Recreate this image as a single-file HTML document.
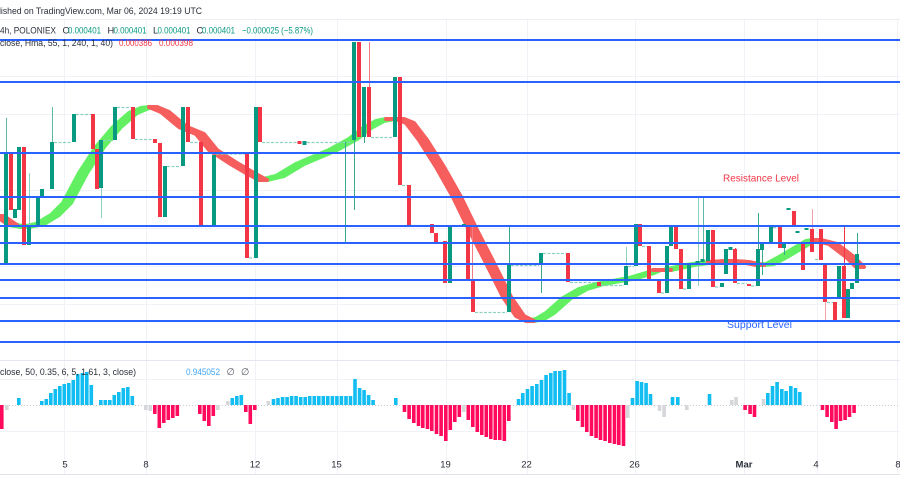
<!DOCTYPE html>
<html>
<head>
<meta charset="utf-8">
<style>
html,body{margin:0;padding:0;background:#fff;}
svg{display:block;}
text{font-family:"Liberation Sans",Arial,sans-serif;}
</style>
</head>
<body>
<svg width="900" height="500" viewBox="0 0 900 500" xmlns="http://www.w3.org/2000/svg">
<rect width="900" height="500" fill="#ffffff"/>
<path d="M0 19.5H900" stroke="#ebedf2"/>
<path stroke="#f0f2f7" fill="none" d="M64.5 20V474M146.5 20V474M255.5 20V474M337.5 20V474M446.5 20V474M527.5 20V474M635.5 20V474M744.5 20V474M817.5 20V474M897.5 20V474M0 76.5H900M0 114.5H900M0 152.5H900M0 190.5H900M0 228.5H900M0 266.5H900M0 304.5H900M0 379.5H900M0 431.5H900"/>
<path d="M0 360.5H900" stroke="#e3e6ee"/>
<path d="M0 474.5H900" stroke="#e0e3eb"/>
<path d="M0 405.5H900" stroke="#c9ccd4" stroke-dasharray="1,2"/>

<defs>
<polyline id="r0" points="0,216 7,221 13,225"/>
<polyline id="g1" points="13,225 25,227 40,224 55,215 67,203 83,173 100,147 117,127 133,113 145,108 153,107"/>
<polyline id="r1" points="153,107 165,112 183,127 200,134 213,150 233,163 250,173 263,180"/>
<polyline id="g2" points="263,180 280,176 300,164 333,150 353,139 367,128 380,121 390,119"/>
<polyline id="r2" points="390,119 400,119 410,123 423,140 440,167 457,197 473,230 490,263 507,297 520,316 530,321"/>
<polyline id="g3" points="530,321 540,319 550,313 567,298 583,289 600,284 633,278 650,273 657,270"/>
<polyline id="r3" points="657,270 667,270"/>
<polyline id="g4" points="667,270 690,265 712,262"/>
<polyline id="r4" points="712,262 730,261 745,262 760,265"/>
<polyline id="g5" points="760,265 770,264 783,257 800,247 810,241 817,240"/>
<polyline id="r5" points="817,240 833,244 850,257 860,267"/>
<g id="gband">
<use href="#g1"/><use href="#g2"/><use href="#g3"/><use href="#g4"/><use href="#g5"/>
</g>
<g id="rband">
<use href="#r0"/><use href="#r1"/><use href="#r2"/><use href="#r3"/><use href="#r4"/><use href="#r5"/>
</g>
</defs>
<g fill="none" stroke="#62f062" stroke-width="4" stroke-linejoin="round" stroke-linecap="round">
<use href="#gband" x="-4"/><use href="#gband" x="-2"/><use href="#gband"/><use href="#gband" x="2"/><use href="#gband" x="4"/>
</g>
<g fill="none" stroke="#f65e5e" stroke-width="4" stroke-linejoin="round" stroke-linecap="round">
<use href="#rband" x="-4"/><use href="#rband" x="-2"/><use href="#rband"/><use href="#rband" x="2"/><use href="#rband" x="4"/>
</g>

<path fill="none" stroke="#8fd1c1" stroke-width="1.2" stroke-dasharray="3,1.5" d="M54 142.5H72M76 114.5H91M103 140.5H113M117 107.5H131M135 139.5H153M167 166.5H181M190 142.5H199M204 226H212M216 154H245M249 258H254M262 142.5H352M371 137.5H393M402 185.5H407M411 225.5H430M452 225.5H462M475 312.5H507M511 265.5H539M543 253.5H566M570 282.5H597M601 285.5H624M628 266.5H634M642 246.5H647M661 293H665M683 289H687M715 287H720M737 283.5H747M751 286H756M764 242.5H769M773 227.5H778M815 259.5H819M827 302.5H833"/>

<path fill="none" stroke="#5fb8a3" d="M6.5 118V153M52.5 107V142M703.5 197V260"/>
<path fill="none" stroke="#8fd1c1" d="M29.5 173V227M101.5 188V218M626.5 247V266M698.5 197V286"/>
<path fill="none" stroke="#3aa98f" d="M345.5 142V243M354.5 140V210M364.5 137V143M509.5 227V265M541.5 265V293M758.5 213V249M762.5 250V275M784.5 248V255M857.5 233V254"/>
<path fill="none" stroke="#f57a84" d="M369.5 42V87M472.5 227V281"/>
<path fill="none" stroke="#f23645" d="M735.5 248V283M844.5 227V266"/>
<path fill="none" stroke="#f7a0a7" d="M812.5 209V229M825.5 302V321"/>

<path fill="none" stroke="#089981" stroke-width="4" d="M6 153V263M15 209V218M19 147V210M29 227V245M38 196V226M42 189V196M52 142V189M74 114V142M101 140V188M115 107V140M165 166V217M183 107V166M214 155V226M256 107V258M304.5 141V145M354 42V140M364 87V137M395 77V137M450 225V283M464 224V227M509 265V312M541 253V265M626 266V285M636 224V266M667 246V293M671 227V246M689 263V289M697.5 261V264M702.5 259V262M708 230V261M722 283V287M726 249V274M730.5 247V250M758 249V286M762 242V250M771 227V242M784 244V248M788.5 208V210M797.5 231V233M806.5 228V230M839 266V298M848 289V318M852 283V289M857 254V283"/>
<path fill="none" stroke="#f23645" stroke-width="4" d="M11 153V210M24 147V245M93 114V149M97 149V189M133 107V139M155 139V143M160 143V217M188 107V142M201 142V226M247 153V258M260 107V142M299.5 141V144M359 42V137M369 87V137M400 77V185M409 185V226M432 224V233M436 233V242M445 241V283M468 225V281M473 281V312M568 253V282M599 282V286M640 224V246M649 246V279M659 279V293M676 227V249M681 249V289M713 230V287M735 249V283M749 284V286M780 227V248M794 211V227M803 243V270M812 229V252M821 229V260M825 264V302M835 302V321M844 266V318"/>

<path fill="none" stroke="#2962ff" stroke-width="2" d="M0 40H900M0 82H900M0 153H900M0 197H900M0 226H900M0 243H900M0 264H900M0 280H900M0 298H900M0 321H900M0 342H900"/>

<text x="723" y="181.7" font-size="10.5" fill="#f23645" textLength="76" lengthAdjust="spacingAndGlyphs">Resistance Level</text>
<text x="727" y="328" font-size="10.5" fill="#2962ff" textLength="65" lengthAdjust="spacingAndGlyphs">Support Level</text>

<path fill="none" stroke="#ff0a5c" stroke-width="3.6" d="M1.8 405V429M154.8 405V414M159.3 405V428M163.8 405V423M168.3 405V420M172.8 405V418M177.3 405V416M199.8 405V414M204.3 405V421M208.8 405V426M213.3 405V416M245.8 405V412M250.3 405V424M254.8 405V410M404.5 405V412M409.1 405V419M413.8 405V423M418.5 405V426M422.8 405V428M427.5 405V429M431.8 405V431M436.5 405V434M441.1 405V436M445.8 405V441M450.3 405V430M454.8 405V422M459.3 405V417M468.3 405V420M472.8 405V427M477.3 405V432M481.8 405V435M486.3 405V437M490.8 405V439M495.3 405V440M499.8 405V440M504.3 405V441M508.8 405V421M577.8 405V421M582.5 405V427M586.8 405V432M591.5 405V436M596.1 405V438M600.5 405V440M605.1 405V441M609.8 405V443M614.5 405V444M618.8 405V445M623.5 405V446M745.1 405V410M750.1 405V414M754.5 405V417M822.5 405V410M827.1 405V417M831.8 405V422M836.1 405V429M840.5 405V421M845.1 405V420M849.5 405V417M854.1 405V413"/>
<path fill="none" stroke="#d6d7da" stroke-width="3.6" d="M6.8 405V410M145.8 405V410M150.3 405V411M217.8 405V410M227.8 405V401M268.3 405V401M463.8 405V412M573.5 405V410M627.8 405V418M659.5 405V411M664.1 405V417M686.8 405V410M731.8 405V400M736.1 405V397M763.5 405V399"/>
<path fill="none" stroke="#12bdf2" stroke-width="3.6" d="M18.8 405V398M41.8 405V401M46.3 405V399M50.8 405V393M55.3 405V389M59.8 405V386M64.3 405V384M68.8 405V383M73.3 405V380M77.8 405V374M82.3 405V373M86.8 405V372M91.3 405V385M100.8 405V400M105.3 405V400M109.8 405V400M114.3 405V395M118.8 405V392M123.3 405V388M127.8 405V387M132.3 405V396M232.3 405V398M236.8 405V396M241.3 405V395M273.5 405V399M278 405V398M282.6 405V397M287.1 405V397M291.6 405V396M296.1 405V396M300.7 405V397M305.2 405V397M309.7 405V396M314.3 405V396M318.8 405V396M323.3 405V396M327.8 405V396M332.4 405V396M336.9 405V396M341.4 405V396M346 405V396M350.5 405V396M355 405V379M359.6 405V388M364.1 405V390M368.6 405V395M373.1 405V400M395.8 405V398M518.5 405V399M522.8 405V393M527.5 405V389M532.1 405V386M536.8 405V384M541.5 405V380M546.1 405V375M550.8 405V373M555.1 405V371M559.8 405V371M564.5 405V370M569.1 405V393M632.5 405V398M637.1 405V381M641.5 405V382M646.1 405V383M650.5 405V394M672.5 405V397M677.8 405V397M709.5 405V394M767.8 405V393M772.5 405V386M777.1 405V382M781.8 405V389M786.1 405V391M790.8 405V386M795.5 405V388M799.8 405V392"/>

<text x="-1" y="14" font-size="9.3" fill="#2a2e39" textLength="203" lengthAdjust="spacingAndGlyphs">lished on TradingView.com, Mar 06, 2024 19:19 UTC</text>
<g font-size="9.3">
<text x="0" y="33.3" fill="#2a2e39" textLength="56" lengthAdjust="spacingAndGlyphs">4h, POLONIEX</text>
<text x="62.5" y="33.3" fill="#2a2e39">O</text>
<text x="68" y="33.3" fill="#089981" textLength="33" lengthAdjust="spacingAndGlyphs">0.000401</text>
<text x="107.5" y="33.3" fill="#2a2e39">H</text>
<text x="113.5" y="33.3" fill="#089981" textLength="33" lengthAdjust="spacingAndGlyphs">0.000401</text>
<text x="153" y="33.3" fill="#2a2e39">L</text>
<text x="157.5" y="33.3" fill="#089981" textLength="33" lengthAdjust="spacingAndGlyphs">0.000401</text>
<text x="196.5" y="33.3" fill="#2a2e39">C</text>
<text x="202" y="33.3" fill="#089981" textLength="33" lengthAdjust="spacingAndGlyphs">0.000401</text>
<text x="242" y="33.3" fill="#089981" textLength="71" lengthAdjust="spacingAndGlyphs">−0.000025 (−5.87%)</text>
<text x="0" y="45.8" fill="#2a2e39" textLength="113" lengthAdjust="spacingAndGlyphs">close, Hma, 55, 1, 240, 1, 40)</text>
<text x="119" y="45.8" fill="#f23645" textLength="33" lengthAdjust="spacingAndGlyphs">0.000386</text>
<text x="159" y="45.8" fill="#f23645" textLength="34" lengthAdjust="spacingAndGlyphs">0.000398</text>
<text x="0" y="375" fill="#2a2e39" textLength="136" lengthAdjust="spacingAndGlyphs">close, 50, 0.35, 6, 5, 1.61, 3, close)</text>
<text x="186" y="375" fill="#42a5f5" textLength="34" lengthAdjust="spacingAndGlyphs">0.945052</text>
<text x="226.5" y="375" fill="#50535e">∅</text>
<text x="241" y="375" fill="#50535e">∅</text>
</g>
<g font-size="9.5" fill="#2a2e39" text-anchor="middle">
<text x="65" y="467.5">5</text>
<text x="146" y="467.5">8</text>
<text x="255" y="467.5">12</text>
<text x="336.5" y="467.5">15</text>
<text x="445.5" y="467.5">19</text>
<text x="526.5" y="467.5">22</text>
<text x="634.5" y="467.5">26</text>
<text x="744" y="467.5" font-weight="bold">Mar</text>
<text x="816" y="467.5">4</text>
<text x="898" y="467.5">8</text>
</g>
</svg>
</body>
</html>
